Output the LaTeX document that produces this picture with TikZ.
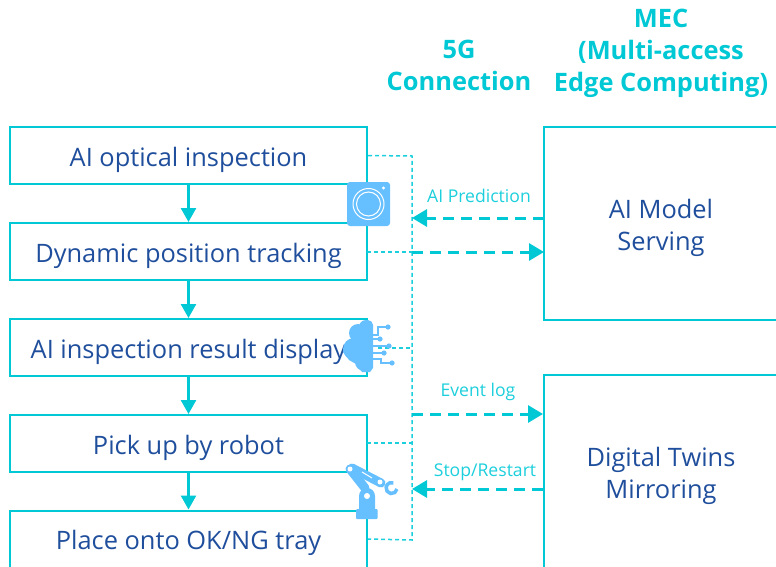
\documentclass[tikz,border=0pt]{standalone}
\usepackage{fontspec}
\setmainfont{Open Sans}
\usepackage{xcolor}
\usetikzlibrary{calc}
\usetikzlibrary{arrows.meta}
\definecolor{linecyan}{HTML}{00C8D4}
\definecolor{labelcyan}{HTML}{1CCFDC}
\definecolor{textblue}{HTML}{1F4E9C}
\definecolor{iconblue}{HTML}{66BFFF}
\tikzset{
    stagebox/.style={draw=linecyan, line width=2pt, text=textblue, font=\fontsize{25.4}{30}\selectfont, minimum width=357pt, minimum height=57pt, inner sep=0pt, text height=26pt, text depth=5pt},
    edgebox/.style={draw=linecyan, line width=2pt, text=textblue, font=\fontsize{25.4}{32}\selectfont, minimum width=234pt, minimum height=193pt, inner sep=0pt, align=center, text height=58pt, text depth=5pt},
    headlabel/.style={text=linecyan, font=\fontsize{25.4}{32}\selectfont\bfseries, inner sep=0pt, align=center},
    linklabel/.style={text=labelcyan, font=\fontsize{17.6}{20}\selectfont, inner sep=0pt},
    flowline/.style={draw=linecyan, line width=2.5pt, -{Triangle[length=14pt,width=15pt]}},
    thinlink/.style={draw=labelcyan, line width=1.5pt, dash pattern=on 4pt off 3pt},
    thicklink/.style={draw=linecyan, line width=3pt, dash pattern=on 11pt off 7pt, -{Triangle[length=15pt,width=17pt]}},
    iconline/.style={draw=iconblue, line width=1.2pt}
}
\begin{document}
\begin{tikzpicture}[x=1pt,y=-1pt]
    \useasboundingbox (0,0) rectangle (776,567);
    %KOORDINAT
    \coordinate (busTop) at (412,156);
    \coordinate (busBot) at (412,540);
    \coordinate (cloudOut) at (378,348);
    \coordinate (trackOut) at (367,252);
    \coordinate (robotOut) at (367,443);
    \coordinate (predA) at (544,218);
    \coordinate (predB) at (412,218);
    \coordinate (trackA) at (412,252);
    \coordinate (trackB) at (544,252);
    \coordinate (eventA) at (412,414);
    \coordinate (eventB) at (543,414);
    \coordinate (stopA) at (543,489);
    \coordinate (stopB) at (412,489);
    %JUDUL
    \node[headlabel] (fiveg) at (459,65) {5G\\Connection};
    \node[headlabel] (mec) at (661,53) {MEC\\(Multi-access\\Edge Computing)};
    %KOTAK KIRI
    \node[stagebox] (inspect) at (188.5,155.5) {AI optical inspection};
    \node[stagebox] (tracking) at (188.5,251.5) {Dynamic position tracking};
    \node[stagebox] (display) at (188.5,347.5) {AI inspection result display};
    \node[stagebox] (pickup) at (188.5,443.5) {Pick up by robot};
    \node[stagebox] (place) at (188.5,539) {Place onto OK/NG tray};
    %KOTAK KANAN
    \node[edgebox] (serving) at (661,223.5) {AI Model\\Serving};
    \node[edgebox] (twins) at (661,471.5) {Digital Twins\\Mirroring};
    %PANAH
    \foreach \a/\b in {inspect/tracking,tracking/display,display/pickup,pickup/place}
        \draw[flowline] (\a) -- (\b);
    %GARIS TIPIS
    \draw[thinlink] (inspect.east) -- (busTop) -- (busBot) -- (place.east);
    \draw[thinlink] (trackOut) -- (trackOut -| busTop);
    \draw[thinlink] (cloudOut) -- (cloudOut -| busTop);
    \draw[thinlink] (robotOut) -- (robotOut -| busTop);
    %GARIS TEBAL
    \draw[thicklink] (predA) -- (predB);
    \draw[thicklink] (trackA) -- (trackB);
    \draw[thicklink] (eventA) -- (eventB);
    \draw[thicklink] (stopA) -- (stopB);
    %LABEL
    \node[linklabel] (predlabel) at (479,196) {AI Prediction};
    \node[linklabel] (eventlabel) at (478,392) {Event log};
    \node[linklabel] (stoplabel) at (485,472) {Stop/Restart};
    %KAMERA
    \fill[iconblue, rounded corners=3pt] (347,182) rectangle (390,226);
    \draw[white, line width=1pt] (368.5,204) circle (15.5);
    \draw[white, line width=1pt] (368.5,204) circle (12);
    \fill[white] (383.5,188) circle (1.6);
    %AWAN
    \fill[iconblue] (373,325) arc (0:-180:5.5 and 5) -- (362,332) -- (352,336) -- (350,342) -- (345,346) -- (343,352) -- (349,360) -- (356,364) -- (362,372) -- (370,372) -- (373,368) -- cycle;
    \fill[iconblue] (358,333) circle (9);
    \fill[iconblue] (354,349) circle (11);
    \fill[iconblue] (364,362) circle (9);
    \fill[iconblue] (366,327) circle (7);
    \draw[iconline] (373,335) -- (378,335) -- (378,327) -- (388,327);
    \draw[iconline] (373,339) -- (380,339);
    \draw[iconline] (373,346) -- (389,346);
    \draw[iconline] (373,353) -- (384,353);
    \draw[iconline] (373,359) -- (381,359) -- (381,363) -- (392,363);
    \foreach \p/\r in {388/327,380/339,389/346,384/353,392/363}
        \fill[iconblue] (\p,\r) circle (2.6);
    %ROBOT
    \fill[iconblue, rounded corners=1pt] (356,509) rectangle (377.5,519);
    \fill[iconblue] (359,509) -- (359,496) arc (180:360:8) -- (375,509) -- cycle;
    \fill[white] (367,496) circle (3);
    \draw[iconblue, line width=9pt, line cap=round] (365,488) -- (350,469);
    \draw[iconblue, line width=9pt, line cap=round] (352,468) -- (381,483);
    \fill[white] (350,469) circle (2.5);
    \fill[white] (380,482) circle (2.5);
    \draw[white, line width=1pt] (362,472) -- (372,478);
    \draw[iconblue, line width=3.5pt] (397,489) arc (10:290:5.5);
\end{tikzpicture}
\end{document}
